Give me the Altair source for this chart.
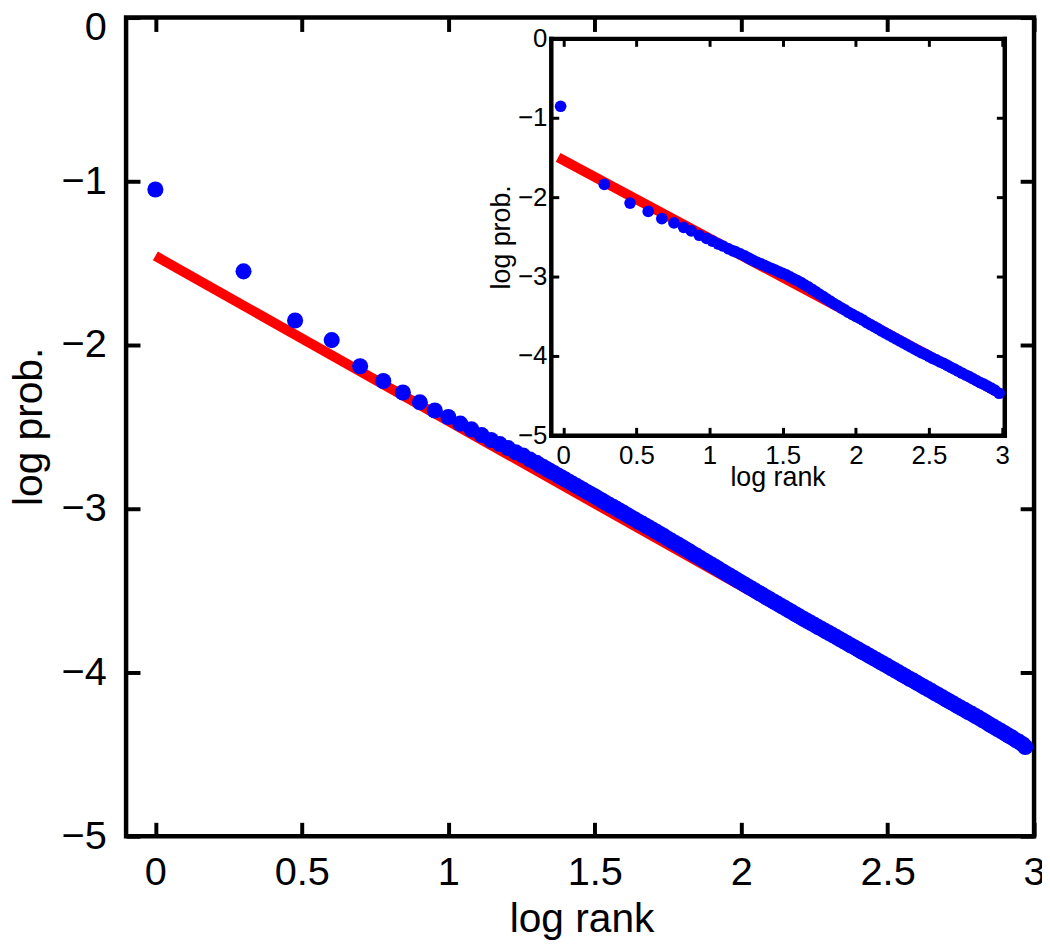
import altair as alt
import pandas as pd

# ---------------- data ----------------
# main panel: blue dots (log rank, log prob.)
main_x = [0.0, 0.301, 0.477, 0.602, 0.699, 0.778, 0.845, 0.903, 0.954, 1.0,
          1.041, 1.079, 1.114, 1.146, 1.176, 1.204, 1.230, 1.255, 1.279, 1.301,
          1.3125, 1.325, 1.3375, 1.35, 1.3625, 1.375, 1.3875, 1.4,
          1.4125, 1.425, 1.4375, 1.45, 1.4625, 1.475, 1.4875, 1.5,
          1.5125, 1.525, 1.5375, 1.55, 1.5625, 1.575, 1.5875, 1.6,
          1.6125, 1.625, 1.6375, 1.65, 1.6625, 1.675, 1.6875, 1.7,
          1.7125, 1.725, 1.7375, 1.75, 1.7625, 1.775, 1.7875, 1.8,
          1.8125, 1.825, 1.8375, 1.85, 1.8625, 1.875, 1.8875, 1.9,
          1.9125, 1.925, 1.9375, 1.95, 1.9625, 1.975, 1.9875, 2.0,
          2.0125, 2.025, 2.0375, 2.05, 2.0625, 2.075, 2.0875, 2.1,
          2.1125, 2.125, 2.1375, 2.15, 2.1625, 2.175, 2.1875, 2.2,
          2.2125, 2.225, 2.2375, 2.25, 2.2625, 2.275, 2.2875, 2.3,
          2.3125, 2.325, 2.3375, 2.35, 2.3625, 2.375, 2.3875, 2.4,
          2.4125, 2.425, 2.4375, 2.45, 2.4625, 2.475, 2.4875, 2.5,
          2.5125, 2.525, 2.5375, 2.55, 2.5625, 2.575, 2.5875, 2.6,
          2.6125, 2.625, 2.6375, 2.65, 2.6625, 2.675, 2.6875, 2.7,
          2.7125, 2.725, 2.7375, 2.75, 2.7625, 2.775, 2.7875, 2.8,
          2.8125, 2.825, 2.8375, 2.85, 2.8625, 2.875, 2.8875, 2.9,
          2.9125, 2.925, 2.9375, 2.95, 2.9625, 2.97]
main_y = [-1.05, -1.55, -1.85, -1.97, -2.13, -2.22, -2.29, -2.35, -2.40, -2.44,
          -2.48, -2.515, -2.55, -2.58, -2.605, -2.63, -2.655, -2.675, -2.70, -2.72,
          -2.734, -2.746, -2.759, -2.772, -2.784, -2.797, -2.809, -2.822,
          -2.835, -2.848, -2.860, -2.873, -2.886, -2.899, -2.911, -2.924,
          -2.937, -2.950, -2.963, -2.976, -2.988, -3.001, -3.014, -3.027,
          -3.040, -3.053, -3.066, -3.079, -3.091, -3.104, -3.117, -3.130,
          -3.143, -3.156, -3.169, -3.183, -3.196, -3.209, -3.222, -3.235,
          -3.249, -3.262, -3.276, -3.289, -3.303, -3.316, -3.330, -3.343,
          -3.356, -3.370, -3.383, -3.397, -3.410, -3.423, -3.437, -3.450,
          -3.463, -3.476, -3.489, -3.503, -3.516, -3.529, -3.542, -3.555,
          -3.568, -3.581, -3.594, -3.607, -3.620, -3.633, -3.646, -3.659,
          -3.672, -3.684, -3.697, -3.709, -3.722, -3.734, -3.747, -3.759,
          -3.772, -3.784, -3.797, -3.810, -3.822, -3.835, -3.847, -3.860,
          -3.873, -3.885, -3.898, -3.911, -3.923, -3.936, -3.948, -3.961,
          -3.974, -3.987, -3.999, -4.012, -4.025, -4.038, -4.050, -4.063,
          -4.076, -4.089, -4.101, -4.114, -4.127, -4.140, -4.152, -4.165,
          -4.178, -4.190, -4.203, -4.216, -4.228, -4.241, -4.253, -4.266,
          -4.279, -4.292, -4.305, -4.319, -4.332, -4.345, -4.358, -4.371,
          -4.385, -4.398, -4.412, -4.425, -4.440, -4.455]
# main panel: red fitted line (end points)
main_fit_x = [0.0, 2.98]
main_fit_y = [-1.456, -4.46]

# inset: blue dots
inset_x = [-0.018, 0.281, 0.457, 0.581, 0.674, 0.757, 0.823, 0.875, 0.93, 0.98,
           1.02, 1.06, 1.09, 1.13, 1.16, 1.18, 1.21, 1.24, 1.26, 1.28,
           1.3, 1.325, 1.35, 1.375, 1.4, 1.425, 1.45, 1.475, 1.5, 1.525,
           1.55, 1.575, 1.6, 1.625, 1.65, 1.675, 1.7, 1.725, 1.75, 1.775,
           1.8, 1.825, 1.85, 1.875, 1.9, 1.925, 1.95, 1.975, 2.0, 2.025,
           2.05, 2.075, 2.1, 2.125, 2.15, 2.175, 2.2, 2.225, 2.25, 2.275,
           2.3, 2.325, 2.35, 2.375, 2.4, 2.425, 2.45, 2.475, 2.5, 2.525,
           2.55, 2.575, 2.6, 2.625, 2.65, 2.675, 2.7, 2.725, 2.75, 2.775,
           2.8, 2.825, 2.85, 2.875, 2.9, 2.925, 2.95, 2.98]
inset_y = [-0.855, -1.84, -2.075, -2.18, -2.27, -2.325, -2.38, -2.425, -2.48, -2.52,
           -2.555, -2.59, -2.615, -2.65, -2.675, -2.69, -2.715, -2.74, -2.76, -2.78,
           -2.80, -2.82, -2.84, -2.86, -2.88, -2.90, -2.92, -2.94, -2.96, -2.98,
           -3.005, -3.03, -3.05, -3.075, -3.105, -3.13, -3.16, -3.19, -3.22, -3.25,
           -3.28, -3.31, -3.34, -3.365, -3.395, -3.42, -3.45, -3.475, -3.50, -3.525,
           -3.55, -3.58, -3.605, -3.63, -3.655, -3.685, -3.71, -3.735, -3.76, -3.785,
           -3.81, -3.835, -3.86, -3.885, -3.91, -3.935, -3.96, -3.98, -4.005, -4.03,
           -4.05, -4.075, -4.095, -4.12, -4.145, -4.165, -4.19, -4.215, -4.24, -4.26,
           -4.285, -4.31, -4.335, -4.355, -4.38, -4.405, -4.43, -4.47]
# inset: red fitted line (end points)
inset_fit_x = [-0.035, 2.98]
inset_fit_y = [-1.5, -4.47]

# tick labels
x_ticks = [0, 0.5, 1, 1.5, 2, 2.5, 3]
y_ticks = [-5, -4, -3, -2, -1, 0]

assert len(main_x) == len(main_y)
assert len(inset_x) == len(inset_y)

main_df = pd.DataFrame({"x": main_x, "y": main_y})
main_fit = pd.DataFrame({"x": main_fit_x, "y": main_fit_y})
inset_df = pd.DataFrame({"x": inset_x, "y": inset_y})
inset_fit = pd.DataFrame({"x": inset_fit_x, "y": inset_fit_y})

# ---------------- layout ----------------
W, H = 915, 825                  # main plot area
IX0, IX1 = 428, 885              # inset box (x, inside plot area)
IY0, IY1 = 21, 421               # inset box (y, top / bottom)
FONT = "Liberation Sans"

XS_MAIN = alt.Scale(domain=[-0.1, 3.0], nice=False, zero=False)
YS_MAIN = alt.Scale(domain=[-5, 0], nice=False, zero=False)
XS_INS = alt.Scale(domain=[-0.085, 3.015], range=[IX0, IX1], nice=False, zero=False)
YS_INS = alt.Scale(domain=[-5, 0], range=[IY1, IY0], nice=False, zero=False)


def ax(**kw):
    base = dict(grid=False, labelFlush=False, labelOverlap=False, title=None,
                domainColor="black", tickColor="black", labelColor="black",
                titleColor="black", titleFont=FONT, labelFont=FONT,
                titleFontWeight="normal", domainCap="square")
    base.update(kw)
    return alt.Axis(**base)


def tick_axis(orient, offset, values, size, width, domain=False, dwidth=4.5):
    return ax(orient=orient, offset=offset, values=values, labels=False,
              ticks=True, tickSize=size, tickWidth=width, domain=domain,
              domainWidth=dwidth)


# main labelled axes
AX_MX = ax(orient="bottom", values=x_ticks, format="~g", ticks=False, tickSize=0,
           domain=False, labelFontSize=40, labelPadding=17,
           title="log rank", titleFontSize=41, titleX=459, titleY=96,
           titleBaseline="alphabetic", titleAlign="center")
AX_MY = ax(orient="left", values=y_ticks, format="~g", ticks=False, tickSize=0,
           domain=False, labelFontSize=40, labelPadding=20,
           labelOffset={"condition": {"test": "datum.value === 0", "value": 10}, "value": 0},
           title="log prob.", titleFontSize=41, titleX=-97, titleY=412,
           titleAngle=270, titleBaseline="middle", titleAlign="center")

# inset labelled axes (with frame lines)
AX_IX = ax(orient="bottom", offset=-(H - IY1), values=x_ticks, format="~g",
           ticks=False, tickSize=0, domain=True, domainWidth=4.5,
           labelFontSize=26, labelPadding=7,
           title="log rank", titleFontSize=27, titleX=(IX0 + IX1) / 2, titleY=51,
           titleBaseline="alphabetic", titleAlign="center")
AX_IY = ax(orient="left", offset=-IX0, values=y_ticks, format="~g",
           ticks=False, tickSize=0, domain=True, domainWidth=4.5,
           labelFontSize=26, labelPadding=4,
           title="log prob.", titleFontSize=27, titleX=-50, titleY=(IY0 + IY1) / 2,
           titleAngle=270, titleBaseline="middle", titleAlign="center")

main_line = alt.Chart(main_fit).mark_line(color="#ff0000", strokeWidth=10, strokeCap="butt").encode(
    x=alt.X("x:Q", scale=XS_MAIN, axis=AX_MX),
    y=alt.Y("y:Q", scale=YS_MAIN, axis=AX_MY),
)
main_pts = alt.Chart(main_df).mark_circle(size=263, color="#0000ff", opacity=1).encode(
    x=alt.X("x:Q", scale=XS_MAIN, axis=tick_axis("top", -H, x_ticks, 14, 4)),
    y=alt.Y("y:Q", scale=YS_MAIN, axis=tick_axis("right", -W, y_ticks, 14, 4)),
)
main_ticks = alt.Chart(main_fit).mark_line(opacity=0).encode(
    x=alt.X("x:Q", scale=XS_MAIN, axis=tick_axis("bottom", -H, x_ticks, 14, 4)),
    y=alt.Y("y:Q", scale=YS_MAIN, axis=tick_axis("left", -W, y_ticks, 14, 4)),
)

ins_line = alt.Chart(inset_fit).mark_line(color="#ff0000", strokeWidth=10, strokeCap="butt").encode(
    x=alt.X("x:Q", scale=XS_INS, axis=AX_IX),
    y=alt.Y("y:Q", scale=YS_INS, axis=AX_IY),
)
ins_pts = alt.Chart(inset_df).mark_circle(size=139, color="#0000ff", opacity=1).encode(
    x=alt.X("x:Q", scale=XS_INS, axis=tick_axis("top", -IY1, x_ticks, 8, 3)),
    y=alt.Y("y:Q", scale=YS_INS, axis=tick_axis("right", IX0 - W, y_ticks, 8, 3)),
)
ins_ticks = alt.Chart(inset_fit).mark_line(opacity=0).encode(
    x=alt.X("x:Q", scale=XS_INS,
            axis=tick_axis("bottom", IY0 - H, x_ticks, 8, 3, domain=True)),
    y=alt.Y("y:Q", scale=YS_INS,
            axis=tick_axis("left", -IX1, y_ticks, 8, 3, domain=True)),
)

chart = (
    alt.layer(main_line, main_pts, main_ticks, ins_line, ins_pts, ins_ticks)
    .resolve_scale(x="independent", y="independent")
    .resolve_axis(x="independent", y="independent")
    .properties(
        width=W, height=H,
        autosize=alt.AutoSizeParams(type="none"),
        padding={"left": 119, "top": 6, "right": 8, "bottom": 106},
        background="white",
    )
    .configure_view(stroke="black", strokeWidth=4.5)
)

chart.save("out.html", embed_options={"renderer": "svg", "actions": False})
